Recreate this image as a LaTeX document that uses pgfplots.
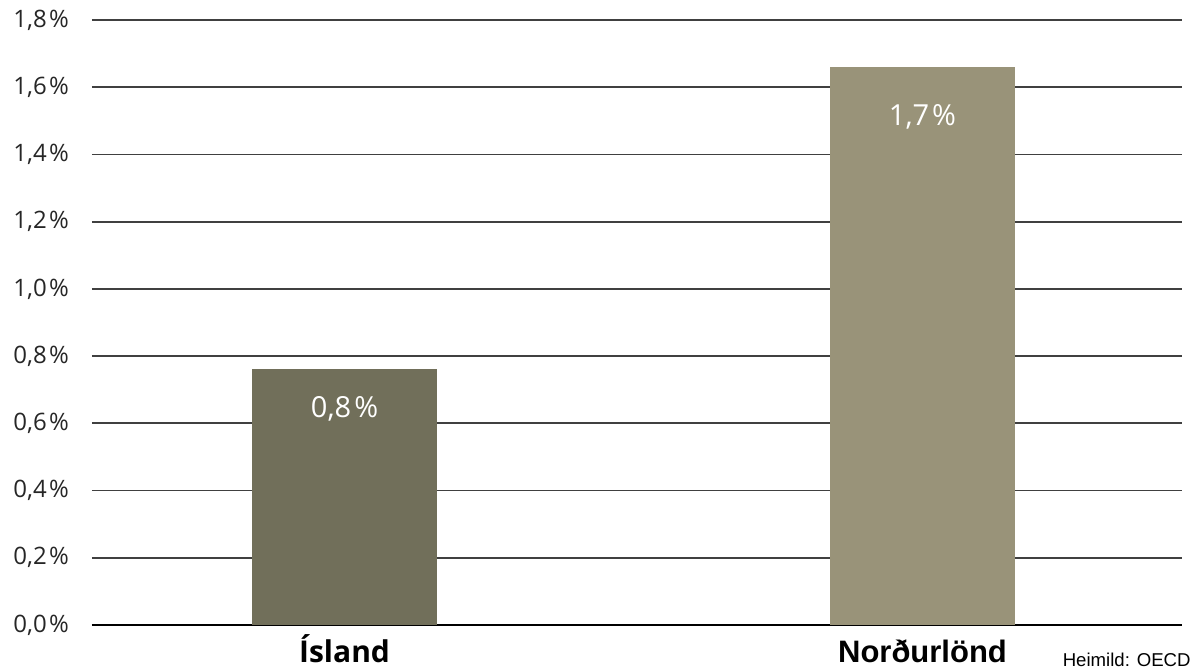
\documentclass[border=0pt]{standalone}
\usepackage{pgfplots}
\pgfplotsset{compat=1.18}
\usepackage{fontspec}
\setmainfont{Open Sans}
\newfontfamily\arialf{Liberation Sans}
\definecolor{barA}{HTML}{716F5A}
\definecolor{barB}{HTML}{999379}
\definecolor{gridc}{HTML}{404040}
\begin{document}
\begin{tikzpicture}
\begin{axis}[
  scale only axis,
  width=545pt, height=302.5pt,
  xmin=-0.437, xmax=1.449,
  ymin=0, ymax=1.8,
  ytick={0,0.2,...,1.8},
  xtick={0},
  xticklabels={Ísland},
  xticklabel style={anchor=base, yshift=-19pt, font=\bfseries\fontsize{15}{18}\selectfont},
  extra x ticks={1},
  extra x tick labels={Norðurlönd},
  extra x tick style={xticklabel style={font=\arialf\bfseries\fontsize{15.5}{18}\selectfont}},
  major tick length=0pt,
  axis x line*=bottom,
  axis y line*=left,
  y axis line style={draw=none},
  x axis line style={black, line width=0.9pt, -},
  ymajorgrids,
  grid style={gridc, line width=0.9pt},
  /pgf/number format/assume math mode=true,
  /pgf/number format/.cd, use comma, fixed, fixed zerofill, precision=1,
  /pgfplots/.cd,
  yticklabel={\pgfmathprintnumber{\tick}\hspace{1.2pt}\%},
  yticklabel style={font=\fontsize{12}{14}\selectfont, color=black!85, anchor=east, xshift=-8pt},
  ybar, bar width=92.5pt,
  bar shift=0pt,
  clip=false,
  nodes near coords,
  point meta=explicit symbolic,
  every node near coord/.append style={font=\fontsize{14.5}{16}\selectfont, color=white, anchor=center},
]
\addplot[fill=barA, draw=none, every node near coord/.append style={yshift=-20pt}] coordinates {(0,0.762) [0,8\hspace{1.5pt}\%]};
\addplot[fill=barB, draw=none, every node near coord/.append style={yshift=-25pt}] coordinates {(1,1.66) [1,7\hspace{1.5pt}\%]};
\end{axis}
\node[anchor=base east, font=\arialf\fontsize{9.3}{11}\selectfont, inner sep=0pt] at ([shift={(4.5pt,-21pt)}]current axis.south east) {Heimild: OECD};
\pgfresetboundingbox
\useasboundingbox ([shift={(-46pt,-23pt)}]current axis.south west) rectangle ([shift={(5.5pt,10pt)}]current axis.north east);
\end{tikzpicture}
\end{document}
